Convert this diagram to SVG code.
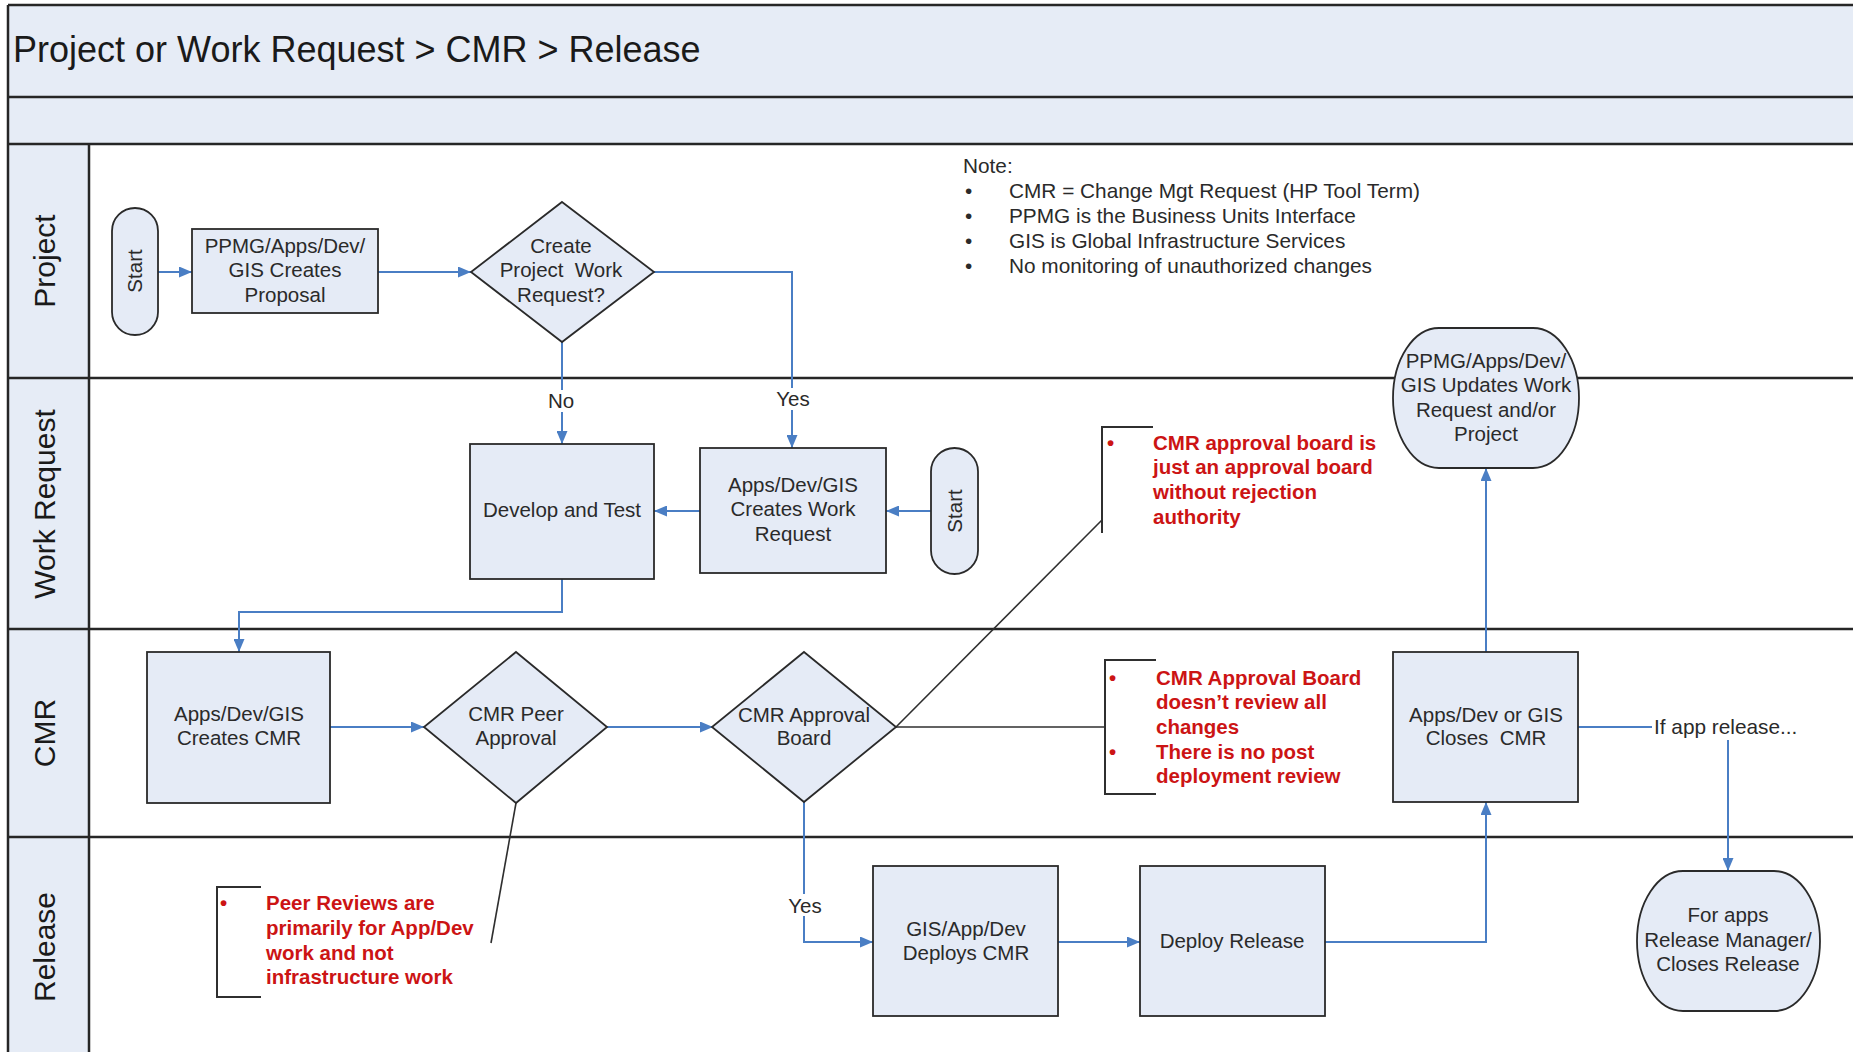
<svg xmlns="http://www.w3.org/2000/svg" width="1853" height="1052" viewBox="0 0 1853 1052">
  <style>
    .band { fill: #E6ECF6; stroke: none; }
    .frame { stroke: #262626; stroke-width: 2.5; fill: none; }
    .lane-label { font-family: "Liberation Sans", Arial, sans-serif; font-size: 30px; fill: #1a1a1a; text-anchor: middle; dominant-baseline: central; }
    .title { font-family: "Liberation Sans", Arial, sans-serif; font-size: 36px; fill: #1a1a1a; dominant-baseline: central; }
    .shape { fill: #E5EBF6; stroke: #2a2a2a; stroke-width: 1.8; }
    .txt { font-family: "Liberation Sans", Arial, sans-serif; font-size: 20.5px; fill: #2a2a2a; text-anchor: middle; dominant-baseline: central; }
    .note { font-family: "Liberation Sans", Arial, sans-serif; font-size: 20.8px; fill: #2a2a2a; dominant-baseline: central; }
    .red { font-family: "Liberation Sans", Arial, sans-serif; font-size: 20.5px; font-weight: bold; fill: #CC1414; dominant-baseline: central; }
    .flow { fill: none; stroke: #4A7EC4; stroke-width: 2; }
    .callout { fill: none; stroke: #2f2f2f; stroke-width: 1.6; }
    .bracket { fill: none; stroke: #2f2f2f; stroke-width: 2; }
    .lblbg { fill: #ffffff; }
  </style>
  <defs>
    <marker id="arrow" viewBox="0 0 13 11" refX="13" refY="5.5" markerWidth="13" markerHeight="11" markerUnits="userSpaceOnUse" orient="auto">
      <path d="M0,0 L13,5.5 L0,11 Z" fill="#4A7EC4"/>
    </marker>
    <clipPath id="note-clip">
      <rect x="1090" y="400" width="300" height="133"/>
    </clipPath>
  </defs>

  <rect width="1853" height="1052" fill="#ffffff"/>

  <!-- swimlane frame -->
  <g id="frame">
    <rect class="band" x="8" y="5" width="1860" height="139"/>
    <rect class="band" x="8" y="144" width="81" height="920"/>
    <line class="frame" x1="8" y1="5" x2="1853" y2="5"/>
    <line class="frame" x1="8" y1="97" x2="1853" y2="97"/>
    <line class="frame" x1="8" y1="144" x2="1853" y2="144"/>
    <line class="frame" x1="8" y1="378" x2="1853" y2="378"/>
    <line class="frame" x1="8" y1="629" x2="1853" y2="629"/>
    <line class="frame" x1="8" y1="837" x2="1853" y2="837"/>
    <line class="frame" x1="8" y1="5" x2="8" y2="1052"/>
    <line class="frame" x1="89" y1="144" x2="89" y2="1052"/>
    <text class="title" x="13" y="49">Project or Work Request &gt; CMR &gt; Release</text>
    <text class="lane-label" transform="translate(44,261) rotate(-90)">Project</text>
    <text class="lane-label" transform="translate(44,504) rotate(-90)">Work Request</text>
    <text class="lane-label" transform="translate(44,733) rotate(-90)">CMR</text>
    <text class="lane-label" transform="translate(44,947) rotate(-90)">Release</text>
  </g>

  <!-- notes -->
  <g id="legend">
    <text class="note" x="963" y="165">Note:</text>
    <text class="note" x="965" y="190">•</text>
    <text class="note" x="1009" y="190">CMR = Change Mgt Request (HP Tool Term)</text>
    <text class="note" x="965" y="215">•</text>
    <text class="note" x="1009" y="215">PPMG is the Business Units Interface</text>
    <text class="note" x="965" y="240">•</text>
    <text class="note" x="1009" y="240">GIS is Global Infrastructure Services</text>
    <text class="note" x="965" y="265">•</text>
    <text class="note" x="1009" y="265">No monitoring of unauthorized changes</text>
  </g>

  <!-- connectors -->
  <g id="connectors">
    <path class="flow" d="M158,272 H192" marker-end="url(#arrow)"/>
    <path class="flow" d="M378,272 H471" marker-end="url(#arrow)"/>
    <path class="flow" d="M654,272 H792 V448" marker-end="url(#arrow)"/>
    <path class="flow" d="M562,342 V444" marker-end="url(#arrow)"/>
    <path class="flow" d="M931,511 H886" marker-end="url(#arrow)"/>
    <path class="flow" d="M700,511 H654" marker-end="url(#arrow)"/>
    <path class="flow" d="M562,579 V612 H239 V652" marker-end="url(#arrow)"/>
    <path class="flow" d="M330,727 H424" marker-end="url(#arrow)"/>
    <path class="flow" d="M607,727 H713" marker-end="url(#arrow)"/>
    <path class="flow" d="M804,802 V942 H873" marker-end="url(#arrow)"/>
    <path class="flow" d="M1058,942 H1140" marker-end="url(#arrow)"/>
    <path class="flow" d="M1325,942 H1486 V802" marker-end="url(#arrow)"/>
    <path class="flow" d="M1486,652 V468" marker-end="url(#arrow)"/>
    <path class="flow" d="M1578,727 H1728 V871" marker-end="url(#arrow)"/>

    <!-- callout leaders -->
    <path class="callout" d="M896,727 L1102,520"/>
    <path class="callout" d="M896,727 H1105"/>
    <path class="callout" d="M516,803 L491,943"/>

    <!-- connector labels -->
    <rect class="lblbg" x="546" y="390" width="32" height="22"/>
    <text class="txt" x="561" y="400">No</text>
    <rect class="lblbg" x="775" y="388" width="36" height="22"/>
    <text class="txt" x="793" y="398">Yes</text>
    <rect class="lblbg" x="786" y="894" width="36" height="22"/>
    <text class="txt" x="805" y="905">Yes</text>
    <rect class="lblbg" x="1652" y="713" width="145" height="27"/>
    <text class="note" x="1654" y="726">If app release...</text>
  </g>

  <!-- Project lane -->
  <g id="start-project">
    <rect class="shape" x="112" y="208" width="46" height="127" rx="23" ry="23"/>
    <text class="txt" transform="translate(134,271) rotate(-90)">Start</text>
  </g>
  <g id="create-proposal">
    <rect class="shape" x="192" y="229" width="186" height="84"/>
    <text class="txt"><tspan x="285" y="245">PPMG/Apps/Dev/</tspan><tspan x="285" y="269">GIS Creates</tspan><tspan x="285" y="294">Proposal</tspan></text>
  </g>
  <g id="decide-work-request">
    <polygon class="shape" points="562,202 654,272 562,342 471,272"/>
    <text class="txt" xml:space="preserve"><tspan x="561" y="245">Create</tspan><tspan x="561" y="269">Project  Work</tspan><tspan x="561" y="294">Request?</tspan></text>
  </g>
  <g id="updates-work-request">
    <rect class="shape" x="1393" y="328" width="186" height="140" rx="46" ry="70"/>
    <text class="txt"><tspan x="1486" y="360">PPMG/Apps/Dev/</tspan><tspan x="1486" y="384">GIS Updates Work</tspan><tspan x="1486" y="409">Request and/or</tspan><tspan x="1486" y="433">Project</tspan></text>
  </g>

  <!-- Work Request lane -->
  <g id="develop-test">
    <rect class="shape" x="470" y="444" width="184" height="135"/>
    <text class="txt" x="562" y="509">Develop and Test</text>
  </g>
  <g id="create-work-request">
    <rect class="shape" x="700" y="448" width="186" height="125"/>
    <text class="txt"><tspan x="793" y="484">Apps/Dev/GIS</tspan><tspan x="793" y="508">Creates Work</tspan><tspan x="793" y="533">Request</tspan></text>
  </g>
  <g id="start-work-request">
    <rect class="shape" x="931" y="448" width="47" height="126" rx="23.5" ry="23.5"/>
    <text class="txt" transform="translate(954,511) rotate(-90)">Start</text>
  </g>
  <g id="note-approval-board" clip-path="url(#note-clip)">
    <path class="bracket" d="M1153,427 H1102 V540"/>
    <text class="red" x="1107" y="442">•</text>
    <text class="red"><tspan x="1153" y="442">CMR approval board is</tspan><tspan x="1153" y="466">just an approval board</tspan><tspan x="1153" y="491">without rejection</tspan><tspan x="1153" y="516">authority</tspan></text>
  </g>

  <!-- CMR lane -->
  <g id="create-cmr">
    <rect class="shape" x="147" y="652" width="183" height="151"/>
    <text class="txt"><tspan x="239" y="713">Apps/Dev/GIS</tspan><tspan x="239" y="737">Creates CMR</tspan></text>
  </g>
  <g id="peer-approval">
    <polygon class="shape" points="516,652 607,727 516,803 424,727"/>
    <text class="txt"><tspan x="516" y="713">CMR Peer</tspan><tspan x="516" y="737">Approval</tspan></text>
  </g>
  <g id="approval-board">
    <polygon class="shape" points="804,652 896,727 804,802 712,727"/>
    <text class="txt"><tspan x="804" y="714">CMR Approval</tspan><tspan x="804" y="737">Board</tspan></text>
  </g>
  <g id="note-board-review">
    <path class="bracket" d="M1156,660 H1105 V794 H1156"/>
    <text class="red" x="1109" y="677">•</text>
    <text class="red" x="1109" y="751">•</text>
    <text class="red"><tspan x="1156" y="677">CMR Approval Board</tspan><tspan x="1156" y="701">doesn’t review all</tspan><tspan x="1156" y="726">changes</tspan><tspan x="1156" y="751">There is no post</tspan><tspan x="1156" y="775">deployment review</tspan></text>
  </g>
  <g id="close-cmr">
    <rect class="shape" x="1393" y="652" width="185" height="150"/>
    <text class="txt" xml:space="preserve"><tspan x="1486" y="714">Apps/Dev or GIS</tspan><tspan x="1486" y="737">Closes  CMR</tspan></text>
  </g>

  <!-- Release lane -->
  <g id="note-peer-review">
    <path class="bracket" d="M261,887 H217 V997 H261"/>
    <text class="red" x="220" y="902">•</text>
    <text class="red"><tspan x="266" y="902">Peer Reviews are</tspan><tspan x="266" y="927">primarily for App/Dev</tspan><tspan x="266" y="952">work and not</tspan><tspan x="266" y="976">infrastructure work</tspan></text>
  </g>
  <g id="deploy-cmr">
    <rect class="shape" x="873" y="866" width="185" height="150"/>
    <text class="txt"><tspan x="966" y="928">GIS/App/Dev</tspan><tspan x="966" y="952">Deploys CMR</tspan></text>
  </g>
  <g id="deploy-release">
    <rect class="shape" x="1140" y="866" width="185" height="150"/>
    <text class="txt" x="1232" y="940">Deploy Release</text>
  </g>
  <g id="close-release">
    <rect class="shape" x="1637" y="871" width="183" height="140" rx="46" ry="70"/>
    <text class="txt"><tspan x="1728" y="914">For apps</tspan><tspan x="1728" y="939">Release Manager/</tspan><tspan x="1728" y="963">Closes Release</tspan></text>
  </g>
</svg>
